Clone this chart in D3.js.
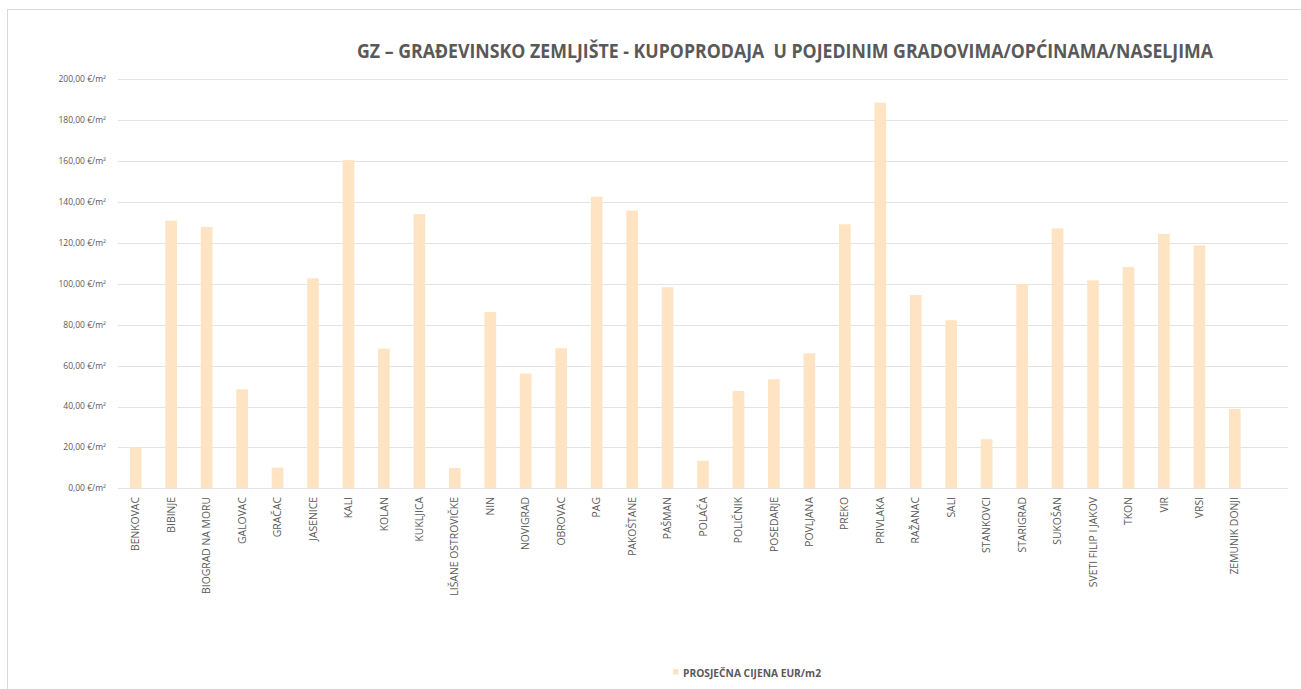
<!DOCTYPE html>
<html>
<head>
<meta charset="utf-8">
<script src="https://cdn.jsdelivr.net/npm/d3@7"></script>
<style>
  html, body { margin: 0; padding: 0; background: #fff; }
  svg { display: block; }
  text { font-family: "Liberation Sans Narrow", "Open Sans", "Liberation Sans", sans-serif; }
</style>
</head>
<body>
<svg id="chart" width="1301" height="689"></svg>
<script>
const categories = ["BENKOVAC","BIBINJE","BIOGRAD NA MORU","GALOVAC","GRAČAC","JASENICE","KALI","KOLAN","KUKLJICA","LIŠANE OSTROVIČKE","NIN","NOVIGRAD","OBROVAC","PAG","PAKOŠTANE","PAŠMAN","POLAČA","POLIČNIK","POSEDARJE","POVLJANA","PREKO","PRIVLAKA","RAŽANAC","SALI","STANKOVCI","STARIGRAD","SUKOŠAN","SVETI FILIP I JAKOV","TKON","VIR","VRSI","ZEMUNIK DONJI"];
const prices = [20.0,130.9,127.8,48.4,10.1,102.7,160.5,68.3,134.1,9.9,86.2,56.1,68.5,142.6,135.8,98.3,13.5,47.6,53.3,66.0,129.1,188.6,94.5,82.2,24.0,99.9,127.1,101.7,108.2,124.4,118.8,38.8];
const yTicks = [0,20,40,60,80,100,120,140,160,180,200];
const titleText = "GZ – GRAĐEVINSKO ZEMLJIŠTE - KUPOPRODAJA  U POJEDINIM GRADOVIMA/OPĆINAMA/NASELJIMA";
const seriesName = "PROSJEČNA CIJENA EUR/m2";

const svg = d3.select("#chart");
const textColor = "#595959";
const barColor = "#FFE4C4";

// chart border
svg.append("rect").attr("x", 7.5).attr("y", 9.5).attr("width", 1310).attr("height", 700)
  .attr("fill", "none").attr("stroke", "#d9d9d9").attr("stroke-width", 1);

const plotLeft = 118, plotRight = 1288, plotTop = 79.3, plotBottom = 488.3;
const step = (plotRight - plotLeft) / (categories.length + 1);

const x = d3.scaleBand().domain(categories)
  .range([plotLeft, plotLeft + step * categories.length])
  .paddingInner(0.67).paddingOuter(0.335);
const y = d3.scaleLinear().domain([0, 200]).range([plotBottom, plotTop]);

// gridlines
svg.append("g").selectAll("line").data(yTicks).join("line")
  .attr("x1", plotLeft).attr("x2", plotRight)
  .attr("y1", d => Math.round(y(d)) + 0.5).attr("y2", d => Math.round(y(d)) + 0.5)
  .attr("stroke", "#e3e3e3").attr("stroke-width", 1);

// y labels
const fmt = d => d.toFixed(2).replace(".", ",") + " €/m²";
svg.append("g").selectAll("text").data(yTicks).join("text")
  .attr("x", 106).attr("y", d => y(d)).attr("dy", "0.35em")
  .attr("text-anchor", "end").attr("fill", textColor)
  .style("font-family", "'Open Sans', sans-serif")
  .attr("font-size", 8.5).text(fmt)
  .each(function(){ this.setAttribute("textLength", this.getComputedTextLength() > 0 ? Math.min(this.getComputedTextLength(), 48) : 48); this.setAttribute("lengthAdjust","spacingAndGlyphs"); });

// bars
svg.append("g").selectAll("rect").data(categories).join("rect")
  .attr("x", d => x(d)).attr("width", x.bandwidth())
  .attr("y", (d, i) => y(prices[i])).attr("height", (d, i) => y(0) - y(prices[i]))
  .attr("fill", barColor);

// x labels
svg.append("g").selectAll("text").data(categories).join("text")
  .attr("transform", d => `translate(${x(d) + x.bandwidth() / 2},497) rotate(-90)`)
  .attr("text-anchor", "end").attr("dy", "0.35em")
  .attr("fill", textColor)
  .style("font-family", "'Open Sans', sans-serif")
  .attr("font-size", 10.4).text(d => d);

// title
const t = svg.append("text").attr("x", 357).attr("y", 58)
  .attr("fill", textColor).attr("font-weight", "bold").attr("font-size", 19)
  .style("white-space", "pre").attr("xml:space", "preserve")
  .text(titleText);
t.attr("textLength", 856).attr("lengthAdjust", "spacingAndGlyphs");

// legend
svg.append("rect").attr("x", 673).attr("y", 669).attr("width", 5.5).attr("height", 5.5).attr("fill", barColor);
svg.append("text").attr("x", 683).attr("y", 676.5)
  .attr("fill", textColor).attr("font-weight", "bold").attr("font-size", 10)
  .attr("textLength", 138).attr("lengthAdjust", "spacingAndGlyphs")
  .text(seriesName);
</script>
</body>
</html>
